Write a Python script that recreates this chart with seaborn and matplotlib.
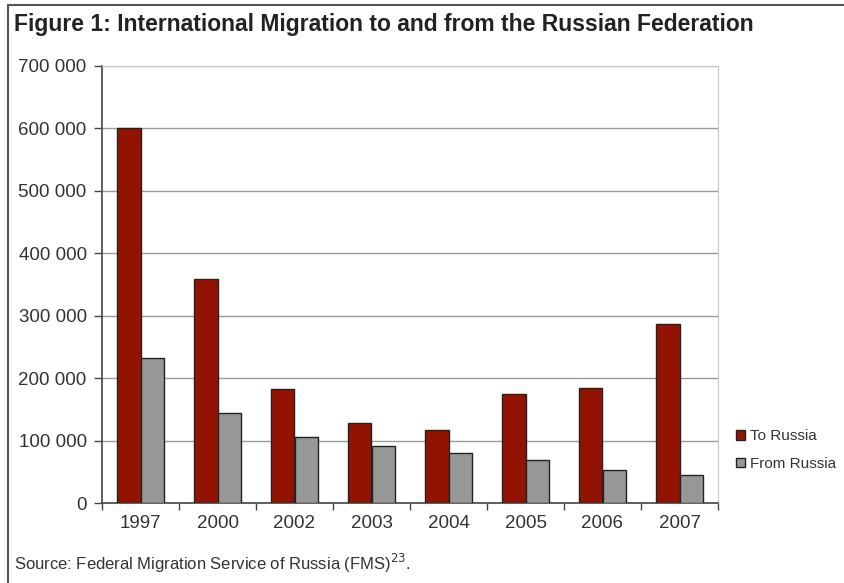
import pandas as pd
import numpy as np
import matplotlib.pyplot as plt
import seaborn as sns

# data
years = ["1997", "2000", "2002", "2003", "2004", "2005", "2006", "2007"]
to_russia = [600000, 359000, 183000, 128000, 117000, 175000, 185000, 287000]
from_russia = [233000, 144000, 105000, 92000, 80000, 69000, 53000, 45000]
series_names = ["To Russia", "From Russia"]
yticks = [0, 100000, 200000, 300000, 400000, 500000, 600000, 700000]

df = pd.DataFrame({
    "year": years * 2,
    "value": to_russia + from_russia,
    "series": [series_names[0]] * len(years) + [series_names[1]] * len(years),
})

sns.set_style("white")
plt.rcParams['font.family'] = ['Liberation Sans', 'DejaVu Sans']

fig = plt.figure(figsize=(8.44, 5.83), dpi=100)
ax = fig.add_axes([102/844, 1 - 503/583, (718-102)/844, (503-66)/583])

sns.barplot(data=df, x="year", y="value", hue="series", order=years,
            palette=["#921400", "#979797"], width=0.6, edgecolor="#222222",
            linewidth=1.0, saturation=1, ax=ax, zorder=3)

ax.set_ylim(0, 700000)
ax.set_xlim(-0.5, len(years) - 0.5)
ax.set_yticks(yticks)
ax.set_yticklabels([f"{v:,}".replace(",", " ") for v in yticks])
ax.yaxis.grid(True, color="#9a9a9a", linewidth=1.0, zorder=0)
ax.set_axisbelow(True)
ax.set_xlabel("")
ax.set_ylabel("")

for s in ["top", "right"]:
    ax.spines[s].set_color("#c8c8c8")
for s in ["left", "bottom"]:
    ax.spines[s].set_color("#444444")
    ax.spines[s].set_linewidth(1.2)

ax.tick_params(axis="y", direction="out", length=6, width=1, color="#444444",
               labelsize=13.5, labelcolor="#333333", pad=5, left=True)
ax.tick_params(axis="x", length=0, labelsize=13.5, labelcolor="#333333", pad=9)
# ticks between categories
ax.set_xticks(np.arange(len(years) + 1) - 0.5, minor=True)
ax.tick_params(axis="x", which="minor", direction="out", length=5, width=1,
               color="#444444", bottom=True)

leg = ax.legend(loc="center left", bbox_to_anchor=(736/844, 1 - 450/583),
                bbox_transform=fig.transFigure, frameon=False, fontsize=11,
                handlelength=0.6, handleheight=0.6, handletextpad=0.3,
                labelspacing=0.9, labelcolor="#333333",
                borderpad=0, borderaxespad=0)

fig.text(14/844, 1 - 25/583,
         "Figure 1: International Migration to and from the Russian Federation",
         fontsize=16.5, fontweight="bold", color="#222222", va="center")
fig.text(14/844, 1 - 563/583,
         "Source: Federal Migration Service of Russia (FMS)$^{23}$.",
         fontsize=12, color="#333333", va="center")

# frame around the figure (left and top)
fig.add_artist(plt.Line2D([8/844, 8/844], [0, 1 - 5/583], color="#555555", lw=1.5))
fig.add_artist(plt.Line2D([8/844, 1], [1 - 5/583, 1 - 5/583], color="#555555", lw=1.5))

fig.savefig("out.png", dpi=100)
